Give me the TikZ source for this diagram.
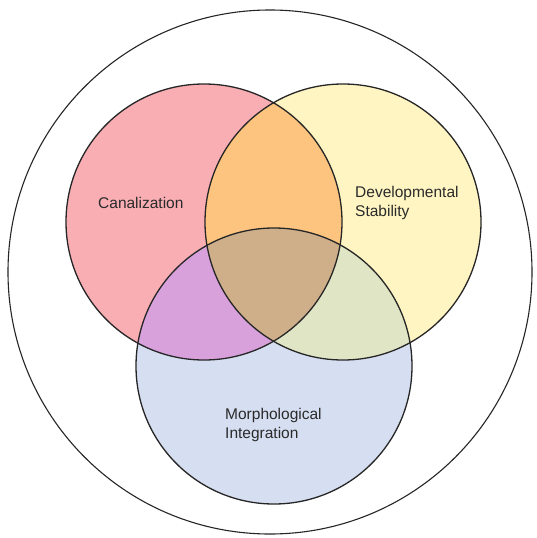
\documentclass[tikz,border=0pt]{standalone}
\usepackage{fontspec}
\setmainfont{Liberation Sans}
\usepackage{xcolor}
\definecolor{canalfill}{HTML}{F9AEB4}
\definecolor{develfill}{HTML}{FFF5C2}
\definecolor{morphfill}{HTML}{D6DEF1}
\definecolor{cdfill}{HTML}{FCC47E}
\definecolor{cmfill}{HTML}{D8A1DC}
\definecolor{dmfill}{HTML}{E0E6C5}
\definecolor{allfill}{HTML}{CFAF8A}
\definecolor{rim}{HTML}{262626}
\definecolor{labeltext}{HTML}{2A2A2A}

\begin{document}
\begin{tikzpicture}[x=1pt,y=-1pt,
  setline/.style={draw=rim,line width=1.3pt},
  setlabel/.style={anchor=west,align=left,inner sep=0,text=labeltext,font=\fontsize{15.5}{19}\selectfont}]
\useasboundingbox (0,0) rectangle (536,538);
\fill[white] (0,0) rectangle (536,538);
\fill[canalfill] (204,222) circle (138);
\fill[develfill] (343,222) circle (138);
\fill[morphfill] (274,366) circle (138);
\begin{scope}
\clip (204,222) circle (138);
\fill[cdfill] (343,222) circle (138);
\fill[cmfill] (274,366) circle (138);
\end{scope}
\begin{scope}
\clip (343,222) circle (138);
\fill[dmfill] (274,366) circle (138);
\end{scope}
\begin{scope}
\clip (204,222) circle (138);
\clip (343,222) circle (138);
\fill[allfill] (274,366) circle (138);
\end{scope}
\draw[setline] (204,222) circle (138);
\draw[setline] (343,222) circle (138);
\draw[setline] (274,366) circle (138);
\draw[draw=rim,line width=1.1pt] (270,272) circle (262);
\node[setlabel] (canal) at (98,203) {Canalization};
\node[setlabel] (devel) at (355,203) {Developmental\\Stability};
\node[setlabel] (morph) at (225,425) {Morphological\\Integration};
\end{tikzpicture}
\end{document}
